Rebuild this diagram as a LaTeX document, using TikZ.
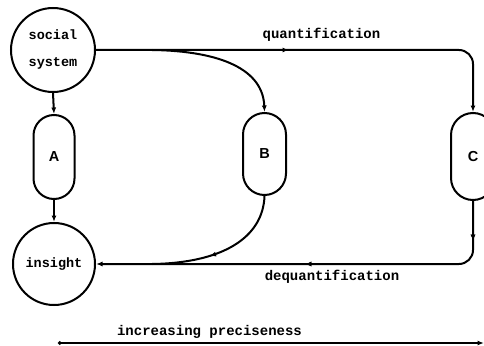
\documentclass[tikz,border=0pt]{standalone}
\usepackage{fontspec}
\setmonofont{Liberation Mono}
\setsansfont{Liberation Sans}
\usetikzlibrary{arrows.meta,decorations.markings}
\tikzset{
  lbl/.style={font=\ttfamily\bfseries\fontsize{14}{16}\selectfont, inner sep=0pt},
  circ/.style={draw, circle, line width=2pt, inner sep=0pt, font=\ttfamily\bfseries\fontsize{13.5}{16}\selectfont, align=center},
  capsule/.style={draw, rectangle, line width=2pt, inner sep=0pt, font=\sffamily\bfseries\fontsize{14.5}{16}\selectfont},
  conn/.style={line width=2pt},
  tip/.tip={Latex[length=6.5pt,width=5pt]},
  midarrow/.style={postaction={decorate}, decoration={markings, mark=at position #1 with {\arrow{tip}}}}
}
\begin{document}
\begin{tikzpicture}[x=1pt,y=-1pt]
\useasboundingbox (0,0) rectangle (484,345);
\clip (0,0) rectangle (484,345);
\node[circ, minimum size=84pt] (soc) at (53,50) {social\\[11pt]system};
\node[circ, minimum size=82pt] (ins) at (54,264) {insight};
\node[capsule, minimum width=41pt, minimum height=84pt, rounded corners=20.5pt] (A) at (54,157) {A};
\node[capsule, minimum width=43pt, minimum height=82pt, rounded corners=21.5pt] (B) at (264.5,154) {B};
\node[capsule, minimum width=44pt, minimum height=87pt, rounded corners=22pt] (C) at (473,156.5) {C};
% vertical arrows
\draw[conn,-tip] (soc.south) -- (A.north);
\draw[conn,-tip] (A.south) -- (ins.north);
% top path
\draw[conn,-tip,rounded corners=14pt,midarrow=193pt] (soc.east) -- (C.north |- soc.east) -- (C.north);
\node[lbl] (q) at (321.5,35) {quantification};
% bottom path
\draw[conn,-tip,rounded corners=14pt,midarrow=40pt,midarrow=225pt] (C.south) -- (C.south |- ins.east) -- (ins.east);
\node[lbl] (dq) at (332,277) {dequantification};
% curves
\coordinate (s1) at (152,50);
\coordinate (s2) at (152,264);
\draw[conn,-tip] (s1) .. controls (222,51) and (263,70) .. (B.north);
\draw[conn,midarrow=0.6] (B.south) .. controls (263,238) and (222,263) .. (s2);
% preciseness scale
\coordinate (p0) at (58,343);
\coordinate (p1) at (484,343);
\draw[conn,{Circle[length=3.5pt]}-tip] (p0) -- (p1);
\node[lbl] (pr) at (209.5,332) {increasing preciseness};
\end{tikzpicture}
\end{document}
